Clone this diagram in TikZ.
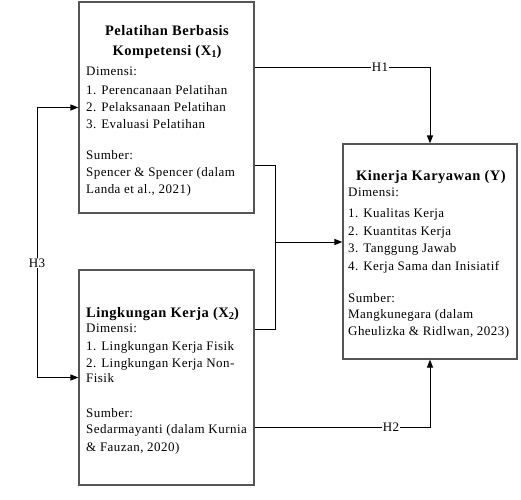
\documentclass[tikz,border=0pt]{standalone}
\usepackage{fontspec}
\setmainfont{Liberation Serif}
\newfontfamily\spacedfont[LetterSpace=3.5]{Liberation Serif}
\newfontfamily\titlefont[LetterSpace=3.5]{Liberation Serif}
\usetikzlibrary{arrows.meta}
\definecolor{boxgray}{HTML}{555555}
\tikzset{
  box/.style={draw=boxgray, line width=1.2pt, minimum width=175pt, inner sep=0pt},
  txt/.style={anchor=base west, inner sep=0pt, font=\spacedfont\fontsize{13}{15}\selectfont},
  ttl/.style={anchor=base, inner sep=0pt, font=\titlefont\bfseries\fontsize{14.5}{16}\selectfont},
  conn/.style={draw=black, line width=1pt},
  tip/.tip={Triangle[length=8pt,width=6pt]},
  arr/.style={conn, -tip},
  lbl/.style={fill=white, inner sep=1pt, font=\spacedfont\fontsize{13}{15}\selectfont}
}
\newcommand{\mysub}[1]{\raisebox{-2.5pt}{\fontsize{10.5}{10.5}\selectfont #1}}
\begin{document}
\begin{tikzpicture}[x=1pt,y=-1pt]
\useasboundingbox (0,0) rectangle (521,499);
% boxes
\node[box, minimum height=211pt] (x1) at (166.5,107.5) {};
\node[box, minimum height=215pt] (x2) at (166.5,377.5) {};
\node[box, minimum width=174pt, minimum height=215pt] (y) at (430,251.5) {};
% X1 text
\node[ttl] (x1t1) at (167,35) {Pelatihan Berbasis};
\node[ttl] (x1t2) at (167,55) {Kompetensi (X\mysub{1})};
\node[txt] (x1a) at (86,75) {Dimensi:};
\node[txt] (x1b) at (86,94) {1. Perencanaan Pelatihan};
\node[txt] (x1c) at (86,111) {2. Pelaksanaan Pelatihan};
\node[txt] (x1d) at (86,128) {3. Evaluasi Pelatihan};
\node[txt] (x1e) at (86,159) {Sumber:};
\node[txt] (x1f) at (86,176) {Spencer \& Spencer (dalam};
\node[txt] (x1g) at (86,193) {Landa et al., 2021)};
% X2 text
\node[ttl, anchor=base west] (x2t) at (86,317) {Lingkungan Kerja (X\mysub{2})};
\node[txt] (x2a) at (86,332) {Dimensi:};
\node[txt] (x2b) at (86,350) {1. Lingkungan Kerja Fisik};
\node[txt] (x2c) at (86,367) {2. Lingkungan Kerja Non-};
\node[txt] (x2d) at (86,382) {Fisik};
\node[txt] (x2e) at (86,417) {Sumber:};
\node[txt] (x2f) at (86,433) {Sedarmayanti (dalam Kurnia};
\node[txt] (x2g) at (86,451) {\& Fauzan, 2020)};
% Y text
\node[ttl] (yt) at (431,180) {Kinerja Karyawan (Y)};
\node[txt] (ya) at (348,196) {Dimensi:};
\node[txt] (yb) at (348,217) {1. Kualitas Kerja};
\node[txt] (yc) at (348,235) {2. Kuantitas Kerja};
\node[txt] (yd) at (348,252) {3. Tanggung Jawab};
\node[txt] (ye) at (348,270) {4. Kerja Sama dan Inisiatif};
\node[txt] (yf) at (348,302) {Sumber:};
\node[txt] (yg) at (348,318) {Mangkunegara (dalam};
\node[txt] (yh) at (348,335) {Gheulizka \& Ridlwan, 2023)};
% H1
\coordinate (h1) at (430,67);
\draw[arr] (x1.east |- h1) -- (h1) -- (y.north);
\node[lbl] (h1l) at (380,67) {H1};
% joint connector
\coordinate (m1) at (275,165);
\coordinate (m2) at (275,329);
\coordinate (mj) at (275,242);
\draw[conn] (x1.east |- m1) -- (m1) -- (m2) -- (x2.east |- m2);
\draw[arr] (mj) -- (y.west |- mj);
% H2
\coordinate (h2) at (430,427);
\draw[arr] (x2.east |- h2) -- (h2) -- (y.south);
\node[lbl] (h2l) at (391,427) {H2};
% H3
\coordinate (h3) at (37,263);
\draw[conn, tip-tip] (x1.west) -- (x1.west -| h3) -- (x2.west -| h3) -- (x2.west);
\node[lbl] (h3l) at (h3) {H3};
\end{tikzpicture}
\end{document}
